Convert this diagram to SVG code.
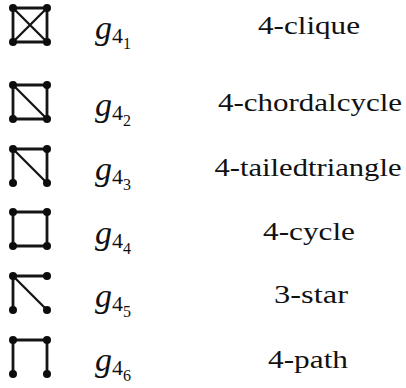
<svg xmlns="http://www.w3.org/2000/svg" width="406" height="388" viewBox="0 0 406 388">
  <rect width="406" height="388" fill="#ffffff"/>

  <!-- graphlet edges -->
  <g id="connectors" stroke="#151515" stroke-linecap="round" fill="none">
    <path stroke-width="2.8" d="M13 8H47V42H13Z"/>
    <path stroke-width="2.3" d="M13 8L47 42M47 8L13 42"/>
    <path stroke-width="2.8" d="M13 85H47V119H13Z"/>
    <path stroke-width="2.3" d="M13 85L47 119"/>
    <path stroke-width="2.8" d="M13 183V149H47V183"/>
    <path stroke-width="2.3" d="M13 149L47 183"/>
    <path stroke-width="2.8" d="M13 212H47V246H13Z"/>
    <path stroke-width="2.8" d="M13 310V276H47"/>
    <path stroke-width="2.3" d="M13 276L47 310"/>
    <path stroke-width="2.8" d="M13 374V340H47V374"/>
  </g>

  <g id="g41">
    <circle cx="13" cy="8" r="4" fill="#0d0d0d"/><circle cx="47" cy="8" r="4" fill="#0d0d0d"/><circle cx="13" cy="42" r="4" fill="#0d0d0d"/><circle cx="47" cy="42" r="4" fill="#0d0d0d"/>
  </g>
  <g id="g42">
    <circle cx="13" cy="85" r="4" fill="#0d0d0d"/><circle cx="47" cy="85" r="4" fill="#0d0d0d"/><circle cx="13" cy="119" r="4" fill="#0d0d0d"/><circle cx="47" cy="119" r="4" fill="#0d0d0d"/>
  </g>
  <g id="g43">
    <circle cx="13" cy="149" r="4" fill="#0d0d0d"/><circle cx="47" cy="149" r="4" fill="#0d0d0d"/><circle cx="13" cy="183" r="4" fill="#0d0d0d"/><circle cx="47" cy="183" r="4" fill="#0d0d0d"/>
  </g>
  <g id="g44">
    <circle cx="13" cy="212" r="4" fill="#0d0d0d"/><circle cx="47" cy="212" r="4" fill="#0d0d0d"/><circle cx="13" cy="246" r="4" fill="#0d0d0d"/><circle cx="47" cy="246" r="4" fill="#0d0d0d"/>
  </g>
  <g id="g45">
    <circle cx="13" cy="276" r="4" fill="#0d0d0d"/><circle cx="47" cy="276" r="4" fill="#0d0d0d"/><circle cx="13" cy="310" r="4" fill="#0d0d0d"/><circle cx="47" cy="310" r="4" fill="#0d0d0d"/>
  </g>
  <g id="g46">
    <circle cx="13" cy="340" r="4" fill="#0d0d0d"/><circle cx="47" cy="340" r="4" fill="#0d0d0d"/><circle cx="13" cy="374" r="4" fill="#0d0d0d"/><circle cx="47" cy="374" r="4" fill="#0d0d0d"/>
  </g>

  <!-- graphlet symbols and names -->
  <text x="95" y="39" font-family="Liberation Serif" fill="#111"><tspan font-style="italic" font-size="34">g</tspan><tspan font-size="22" dy="4">4</tspan><tspan font-size="16" dy="6">1</tspan></text>
  <text x="309" y="34" font-family="Liberation Serif" font-size="26" fill="#111" text-anchor="middle" textLength="102" lengthAdjust="spacingAndGlyphs">4-clique</text>
  <text x="95" y="116" font-family="Liberation Serif" fill="#111"><tspan font-style="italic" font-size="34">g</tspan><tspan font-size="22" dy="4">4</tspan><tspan font-size="16" dy="6">2</tspan></text>
  <text x="310" y="111" font-family="Liberation Serif" font-size="26" fill="#111" text-anchor="middle" textLength="184" lengthAdjust="spacingAndGlyphs">4-chordalcycle</text>
  <text x="95" y="180" font-family="Liberation Serif" fill="#111"><tspan font-style="italic" font-size="34">g</tspan><tspan font-size="22" dy="4">4</tspan><tspan font-size="16" dy="6">3</tspan></text>
  <text x="308" y="176" font-family="Liberation Serif" font-size="26" fill="#111" text-anchor="middle" textLength="187" lengthAdjust="spacingAndGlyphs">4-tailedtriangle</text>
  <text x="95" y="244" font-family="Liberation Serif" fill="#111"><tspan font-style="italic" font-size="34">g</tspan><tspan font-size="22" dy="4">4</tspan><tspan font-size="16" dy="6">4</tspan></text>
  <text x="309" y="240" font-family="Liberation Serif" font-size="26" fill="#111" text-anchor="middle" textLength="92" lengthAdjust="spacingAndGlyphs">4-cycle</text>
  <text x="95" y="307" font-family="Liberation Serif" fill="#111"><tspan font-style="italic" font-size="34">g</tspan><tspan font-size="22" dy="4">4</tspan><tspan font-size="16" dy="6">5</tspan></text>
  <text x="311" y="303" font-family="Liberation Serif" font-size="26" fill="#111" text-anchor="middle" textLength="74" lengthAdjust="spacingAndGlyphs">3-star</text>
  <text x="95" y="371" font-family="Liberation Serif" fill="#111"><tspan font-style="italic" font-size="34">g</tspan><tspan font-size="22" dy="4">4</tspan><tspan font-size="16" dy="6">6</tspan></text>
  <text x="308" y="368" font-family="Liberation Serif" font-size="26" fill="#111" text-anchor="middle" textLength="80" lengthAdjust="spacingAndGlyphs">4-path</text>
</svg>
